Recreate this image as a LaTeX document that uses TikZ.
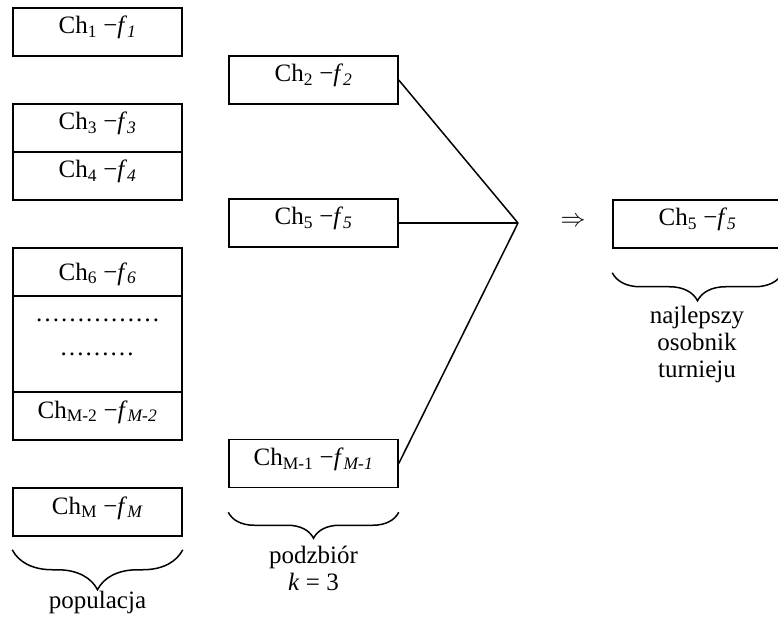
\documentclass[tikz,border=0pt]{standalone}
\usepackage{fontspec}
\setmainfont{Liberation Serif}
\usetikzlibrary{decorations.pathreplacing}
\newcommand{\chf}[2]{Ch\textsubscript{#1} −\textit{f}\textsubscript{\textit{#2}}}
\begin{document}
\begin{tikzpicture}[x=1pt,y=-1pt,
  every node/.style={font=\fontsize{25}{27}\selectfont, inner sep=0pt},
  cbox/.style={draw, line width=1.5pt, minimum width=169pt, minimum height=48pt, text height=16pt, text depth=12pt},
  lnk/.style={line width=1.5pt},
  brc/.style={decorate, decoration={brace, mirror, amplitude=#1}, line width=1.5pt}]
\useasboundingbox (0,0) rectangle (778,617);
% population column
\node[cbox] (ch1) at (97.5,32) {\chf{1}{1}};
\node[cbox] (ch3) at (97.5,128) {\chf{3}{3}};
\node[cbox] (ch4) at (97.5,176) {\chf{4}{4}};
\node[cbox, text depth=0pt] (ch6) at (97.5,272) {\chf{6}{6}};
\node[cbox, minimum height=96pt] (dots) at (97.5,344) {};
\node[anchor=base] (dotsa) at (97.5,321) {……………};
\node[anchor=base] (dotsb) at (97,355) {………};
\node[cbox] (chM2) at (97.5,416) {\chf{M-2}{M-2}};
\node[cbox] (chM) at (97.5,512) {\chf{M}{M}};
% subset column
\node[cbox] (ch2) at (313.5,80) {\chf{2}{2}};
\node[cbox] (ch5) at (313.5,223) {\chf{5}{5}};
\node[cbox] (chM1) at (313.5,463.5) {\chf{M-1}{M-1}};
\coordinate (J) at (518,223);
\draw[lnk] (ch2.east) -- (J);
\draw[lnk] (ch5.east) -- (J);
\draw[lnk] (chM1.east) -- (J);
% result
\node (arr) at (573,222) {$\Rightarrow$};
\node[cbox] (best) at (697.5,224) {\chf{5}{5}};
% braces
\draw[brc=40pt] ([yshift=-13pt]chM.south west) -- ([yshift=-13pt]chM.south east);
\draw[brc=26pt] ([yshift=-24pt]chM1.south west) -- ([yshift=-24pt]chM1.south east);
\draw[brc=28pt] ([yshift=-24pt]best.south west) -- ([yshift=-24pt]best.south east);
% labels
\node[anchor=base] (pop) at (97.5,608) {populacja};
\node[anchor=north, align=center] (pod) at (313.5,545.6) {podzbiór\\\textit{k} = 3};
\node[anchor=north, align=center] (naj) at (697,305.6) {najlepszy\\osobnik\\turnieju};
\end{tikzpicture}
\end{document}
